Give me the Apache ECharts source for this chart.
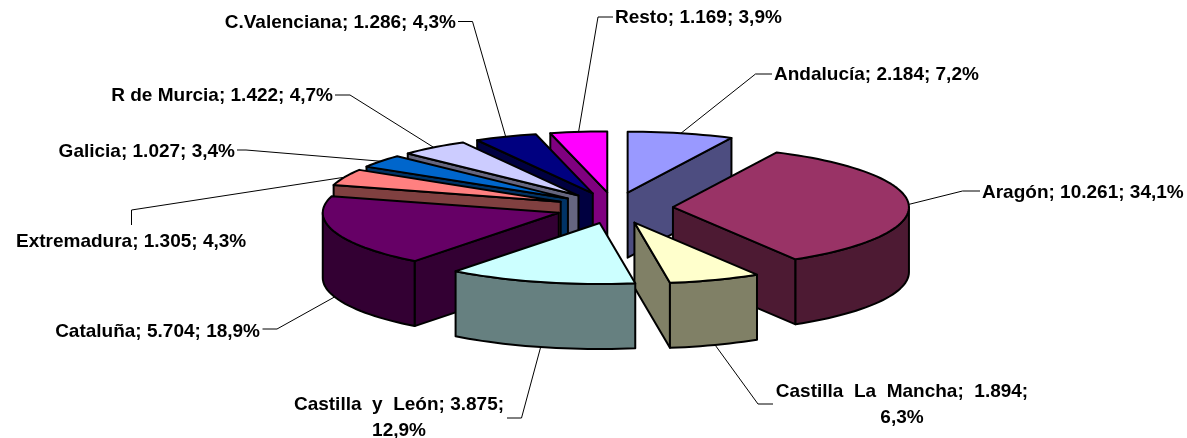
<!DOCTYPE html>
<html>
<head>
<meta charset="utf-8">
<title>Pie</title>
<style>
  html, body { margin: 0; padding: 0; background: #fff; }
  #main { width: 1187px; height: 438px; }
</style>
<script src="https://cdn.jsdelivr.net/npm/echarts@6/dist/echarts.min.js"></script>
</head>
<body>
<div id="main"></div>
<script>
const names = ['Andalucía', 'Aragón', 'Castilla  La  Mancha', 'Castilla  y  León', 'Cataluña',
  'Extremadura', 'Galicia', 'R de Murcia', 'C.Valenciana', 'Resto'];
const values = [2184, 10261, 1894, 3875, 5704, 1305, 1027, 1422, 1286, 1169];
const topColors = ['#9999FF', '#993366', '#FFFFCC', '#CCFFFF', '#660066',
  '#FF8080', '#0066CC', '#CCCCFF', '#000080', '#FF00FF'];
const wallColors = ['#4D4D80', '#4D1A33', '#808066', '#668080', '#330033',
  '#804040', '#003366', '#666680', '#000040', '#800080'];

// elbow of each leader line, then where its label sits
const elbows = [
  [[755.5, 74], [772, 74]],
  [[962.5, 191], [980, 191]],
  [[758, 404], [773, 404]],
  [[521.5, 418], [507, 418]],
  [[277, 329], [262.5, 329]],
  [[131.5, 210], [131.5, 225]],
  [[246, 150], [237, 150]],
  [[350, 95], [335, 95]],
  [[472.5, 21.5], [458, 21.5]],
  [[598, 17], [613, 17]]
];
const labelSpots = [
  [774, 75, 'left'], [982, 193, 'left'], [902, 405, 'center'], [399, 418, 'center'], [260, 332, 'right'],
  [16, 242, 'left'], [235, 152, 'right'], [333, 96, 'right'], [456, 23, 'right'], [615, 18, 'left']
];
const wrapAfterValue = [false, false, true, true, false, false, false, false, false, false];

const cx = 614.4, cy = 207.9;
const rx = 236, ry = 61, depth = 65;
const pullX = 58.6, pullY = 15.6;

const total = values.reduce((a, b) => a + b, 0);
const rad = Math.PI / 180;
const slices = [];
let acc = 0;
values.forEach(function (v) {
  const t0 = acc / total * 360;
  acc += v;
  const t1 = acc / total * 360;
  const mid = (t0 + t1) / 2;
  slices.push({
    t0: t0,
    t1: t1,
    mid: mid,
    ax: cx + pullX * Math.sin(mid * rad),
    ay: cy - pullY * Math.cos(mid * rad)
  });
});

function rim(s, t) {
  return [s.ax + rx * Math.sin(t * rad), s.ay - ry * Math.cos(t * rad)];
}
function arc(s, from, to) {
  const pts = [];
  const n = Math.max(2, Math.ceil((to - from) / 2));
  for (let i = 0; i <= n; i++) {
    pts.push(rim(s, from + (to - from) * i / n));
  }
  return pts;
}
function drop(p) {
  return [p[0], p[1] + depth];
}
function poly(points, fill) {
  return {
    type: 'polygon',
    shape: {points: points},
    style: {fill: fill, stroke: '#000', lineWidth: 2, lineJoin: 'round'}
  };
}
function radialWall(s, t, fill) {
  const a = [s.ax, s.ay], p = rim(s, t);
  return poly([a, p, drop(p), drop(a)], fill);
}

function renderSlice(params, api) {
  const i = api.value(0);
  const s = slices[i];
  const children = [];
  if (Math.sin(s.t0 * rad) < 0) children.push(radialWall(s, s.t0, wallColors[i]));
  if (Math.sin(s.t1 * rad) > 0) children.push(radialWall(s, s.t1, wallColors[i]));
  const from = Math.max(s.t0, 90), to = Math.min(s.t1, 270);
  if (to > from) {
    const front = arc(s, from, to);
    children.push(poly(front.concat(front.map(drop).reverse()), wallColors[i]));
  }
  children.push(poly([[s.ax, s.ay]].concat(arc(s, s.t0, s.t1)), topColors[i]));
  return {type: 'group', children: children};
}

function labelText(i) {
  const amount = values[i].toLocaleString('de-DE');
  const pct = (values[i] / total * 100).toFixed(1).replace('.', ',') + '%';
  if (i === 2) return names[i] + ';  ' + amount + ';\n' + pct;
  return names[i] + '; ' + amount + ';' + (wrapAfterValue[i] ? '\n' : ' ') + pct;
}

function renderLabel(params, api) {
  const i = api.value(0);
  const s = slices[i];
  let start = rim(s, s.mid);
  if (Math.cos(s.mid * rad) < -0.2) start = drop(start);
  const spot = labelSpots[i];
  return {
    type: 'group',
    children: [
      {
        type: 'polyline',
        shape: {points: [start].concat(elbows[i])},
        style: {fill: null, stroke: '#000', lineWidth: 1}
      },
      {
        type: 'text',
        style: {
          text: labelText(i),
          x: spot[0],
          y: spot[1],
          align: spot[2],
          verticalAlign: 'middle',
          lineHeight: 26,
          fill: '#000',
          font: 'bold 19px "Liberation Sans", Arial, sans-serif'
        }
      }
    ]
  };
}

// back slices first so the front ones paint over them
const drawOrder = values.map((v, i) => i)
  .sort((a, b) => Math.cos(slices[b].mid * rad) - Math.cos(slices[a].mid * rad));

const myChart = echarts.init(document.getElementById('main'), null, {renderer: 'canvas'});
myChart.setOption({
  backgroundColor: '#fff',
  animation: false,
  tooltip: {show: false},
  series: [
    {
      type: 'custom',
      coordinateSystem: 'none',
      renderItem: renderSlice,
      data: drawOrder.map(i => [i, values[i]]),
      silent: true,
      z: 2
    },
    {
      type: 'custom',
      coordinateSystem: 'none',
      renderItem: renderLabel,
      data: values.map((v, i) => [i, v]),
      silent: true,
      z: 3
    }
  ]
});
</script>
</body>
</html>
